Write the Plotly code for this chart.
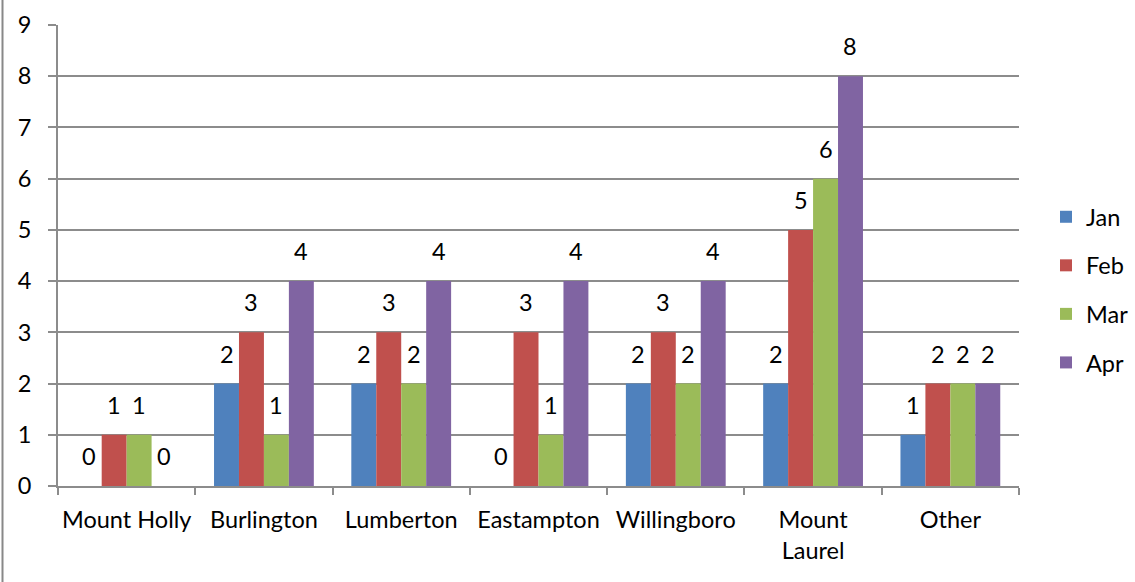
import plotly.graph_objects as go

categories = ["Mount Holly", "Burlington", "Lumberton", "Eastampton", "Willingboro", "Mount<br>Laurel", "Other"]
jan = [0, 2, 2, 0, 2, 2, 1]
feb = [1, 3, 3, 3, 3, 5, 2]
mar = [1, 1, 2, 1, 2, 6, 2]
apr = [0, 4, 4, 4, 4, 8, 2]
series_names = ["Jan", "Feb", "Mar", "Apr"]
colors = ["#4F81BD", "#C0504D", "#9BBB59", "#8064A2"]

FONT = "Lato"
FS = 23.5
W, H = 1135, 582
L, R, T, B = 58, 116, 25, 96
pw, ph = W - L - R, H - T - B
BARGAP = 0.273
cat_px = pw / len(categories)
bar_frac = (1 - BARGAP) / len(series_names)

fig = go.Figure()
annotations = []
for i, (name, vals, col) in enumerate(zip(series_names, [jan, feb, mar, apr], colors)):
    fig.add_trace(go.Bar(
        x=categories, y=vals, name=name, marker=dict(color=col, line=dict(width=0)),
        legendgroup=name, hoverinfo="none",
    ))
    xs = (i - 1.5) * bar_frac * cat_px
    for c, v in zip(categories, vals):
        annotations.append(dict(x=c, y=v, xref="x", yref="y", text=str(v), showarrow=False,
                                xshift=xs, yshift=14, yanchor="bottom",
                                font=dict(family=FONT, size=FS, color="black")))

grid = "#8C8C8C"
fig.update_layout(
    width=W, height=H, barmode="group", bargap=BARGAP, bargroupgap=0,
    margin=dict(l=L, r=R, t=T, b=B, autoexpand=False),
    plot_bgcolor="white", paper_bgcolor="white",
    font=dict(family=FONT, size=FS, color="black"),
    showlegend=True,
    legend=dict(x=(1046 - L) / pw, y=(486 - 290) / ph, xanchor="left", yanchor="middle",
                font=dict(family=FONT, size=FS), tracegroupgap=15,
                bgcolor="rgba(0,0,0,0)"),
    xaxis=dict(showline=True, linecolor=grid, linewidth=2, ticks="outside", ticklen=7,
               tickcolor=grid, tickwidth=2, tickson="boundaries", showgrid=False,
               tickangle=0, tickfont=dict(family=FONT, size=FS), ticklabelstandoff=12),
    yaxis=dict(range=[0, 9], dtick=1, showline=True, linecolor=grid, linewidth=2,
               ticks="outside", ticklen=8, tickcolor=grid, tickwidth=2,
               showgrid=True, gridcolor=grid, gridwidth=2, zeroline=False,
               tickfont=dict(family=FONT, size=FS), ticklabelstandoff=12),
    annotations=annotations,
    shapes=[dict(type="line", xref="paper", yref="paper",
                 x0=(2.5 - L) / pw, x1=(2.5 - L) / pw, y0=-B / ph, y1=1 + T / ph,
                 line=dict(color="#888888", width=2))],
)

fig.write_html("out.html", config={"displayModeBar": False},
               post_script="document.body.style.margin='0';")
